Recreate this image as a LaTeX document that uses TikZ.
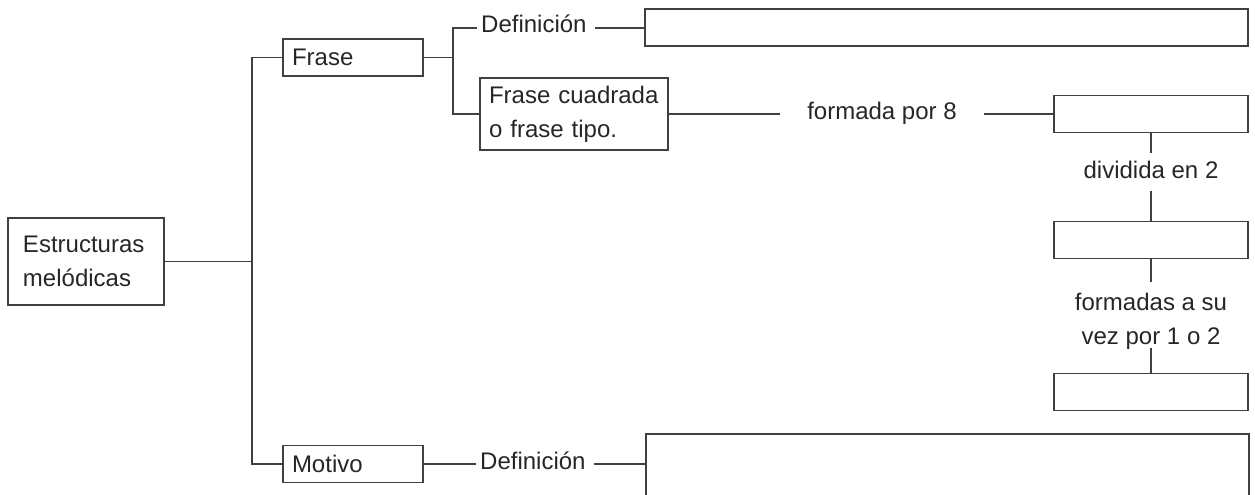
\documentclass[tikz,border=0pt]{standalone}
\usepackage{fontspec}
\setmainfont{Liberation Sans}
\usetikzlibrary{positioning}

\begin{document}
\begin{tikzpicture}
    [x=1pt,y=-1pt,
    every node/.style={font=\fontsize{24}{34}\selectfont,text=black!85},
    box/.style={draw=black!75,line width=1.5pt,inner xsep=9pt,inner ysep=0pt,align=left},
    draw box/.style={draw=black!75,line width=1.5pt,minimum width=194pt,minimum height=37pt,inner sep=0pt},
    link/.style={draw=black!75,line width=1.5pt},
    txt/.style={inner xsep=4pt,inner ysep=0pt,text height=10pt,text depth=0pt}]
    \useasboundingbox (0,0) rectangle (1255,495);
    % raiz y tronco comun
    \node [box,inner xsep=15pt,text width=126pt,minimum height=87pt] (raiz) at (86,261.5) {Estructuras\\melódicas};
    \coordinate (tronco) at ([xshift=87pt]raiz.east);
    \node [box,text width=122pt,minimum height=37pt] (frase) at (353,57.5) {Frase};
    \node [box,text width=122pt,minimum height=37pt] (motivo) at (353,464) {Motivo};
    \draw [link] (raiz) -- (tronco);
    \draw [link] (frase.west) -| (tronco) |- (motivo.west);
    % rama de la frase
    \coordinate (bifurca) at ([xshift=29pt]frase.east);
    \node [txt,anchor=west] (def1) at (477,28) {Definición};
    \node [draw box,minimum width=603pt] (defcaja) at (946.5,27.5) {};
    \node [box,text width=170pt,minimum height=72pt] (cuadrada) at (574,114) {Frase cuadrada\\o frase tipo.};
    \draw [link] (frase) -- (bifurca);
    \draw [link] (def1.west) -| (bifurca) |- (cuadrada.west);
    \draw [link,shorten <=4pt] (def1.east) -- (def1.east -| defcaja.west);
    % columna de la derecha
    \node [txt,inner xsep=27pt] (por8) at (882,114) {formada por 8};
    \node [draw box] (caja8) at (1151,114) {};
    \node [txt,align=center,text height=18pt,text depth=5pt,inner ysep=7pt,below=20pt of caja8] (dividida) {dividida en 2};
    \node [draw box,below=30pt of dividida] (caja2) {};
    \node [txt,align=center,text height=62pt,text depth=3pt,below=23pt of caja2] (formadas) {formadas a su\\vez por 1 o 2};
    \node [draw box,below=25pt of formadas] (caja1) {};
    \draw [link] (cuadrada.east) -- (por8.west);
    \draw [link] (por8.east) -- (caja8.west);
    \path (dividida) edge [link] (caja8) edge [link] (caja2);
    \path (formadas) edge [link] (caja2) edge [link] (caja1);
    % rama del motivo
    \node [txt,anchor=west] (def2) at (476,464) {Definición};
    \node [draw box,minimum width=603pt,minimum height=120pt,anchor=north west] (defmotivo) at (645,433) {};
    \draw [link] (motivo) -- (def2);
    \draw [link,shorten <=4pt] (def2.east) -- (def2.east -| defmotivo.west);
\end{tikzpicture}
\end{document}
